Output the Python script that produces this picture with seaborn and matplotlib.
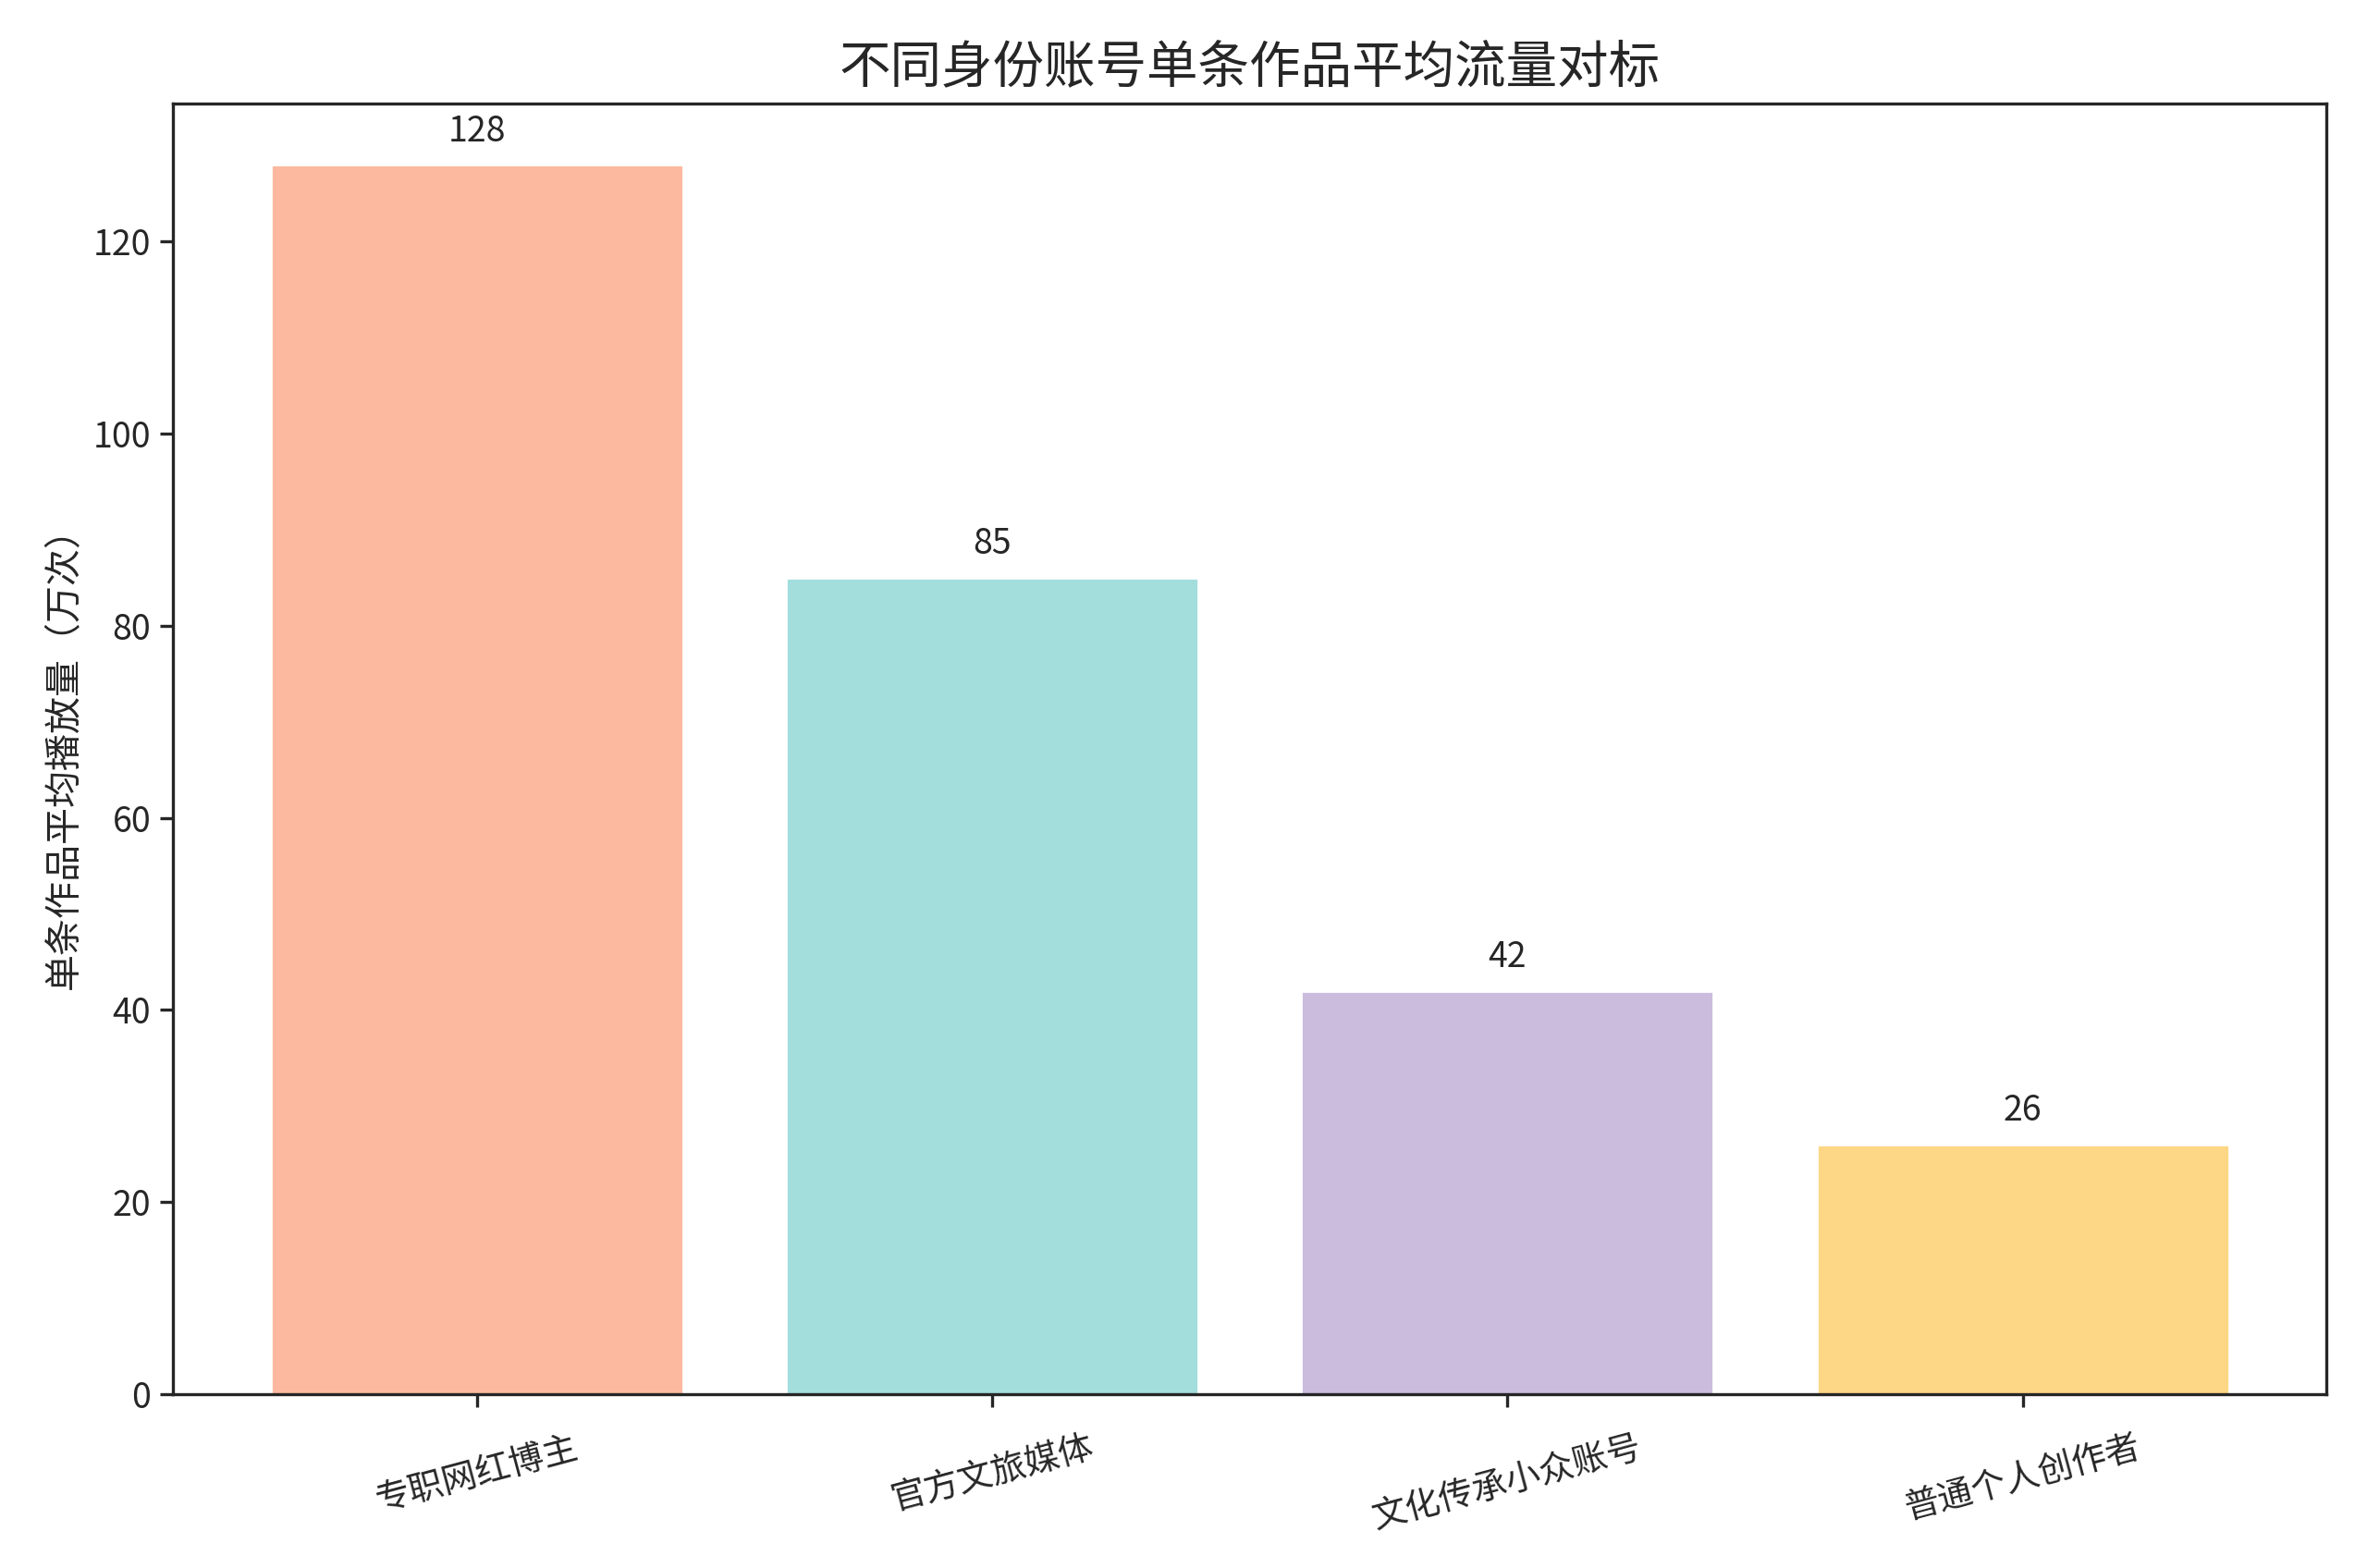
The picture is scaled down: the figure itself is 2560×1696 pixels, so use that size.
import matplotlib
matplotlib.use('Agg')
import matplotlib.pyplot as plt
import seaborn as sns
import pandas as pd

# Data
categories = ['专职网红博主', '官方文旅媒体', '文化传承小众账号', '普通个人创作者']
avg_views = [128, 85, 42, 26]
bar_colors = ['#FCB99F', '#A3DEDD', '#CBBCDE', '#FDD686']

sns.set_style('ticks')
plt.rcParams['font.family'] = ['Noto Sans CJK SC', 'DejaVu Sans']
plt.rcParams['axes.unicode_minus'] = False

df = pd.DataFrame({'类型': categories, '播放量': avg_views})

fig, ax = plt.subplots(figsize=(12.8, 8.48), dpi=200)
fig.subplots_adjust(left=0.073, right=0.983, top=0.934, bottom=0.111)

sns.barplot(data=df, x='类型', y='播放量', hue='类型', palette=bar_colors,
            width=0.8, saturation=1, legend=False, ax=ax)

# Value labels above bars
for i, v in enumerate(avg_views):
    ax.text(i, v + 1.6, str(v), ha='center', va='bottom', fontsize=13.5)

ax.set_xlim(-0.59, len(categories) - 0.41)
ax.set_ylim(0, max(avg_views) * 1.05)
ax.set_title('不同身份账号单条作品平均流量对标', fontsize=20, fontweight='medium', pad=8)
ax.set_xlabel('')
ax.set_ylabel('单条作品平均播放量（万次）', fontsize=14.4)
ax.tick_params(axis='both', labelsize=13.5, width=1.2, length=5)
ax.tick_params(axis='x', pad=9)
plt.setp(ax.get_xticklabels(), rotation=15)
for side in ax.spines.values():
    side.set_linewidth(1.2)

plt.savefig('out.png', dpi=200)
plt.close()
